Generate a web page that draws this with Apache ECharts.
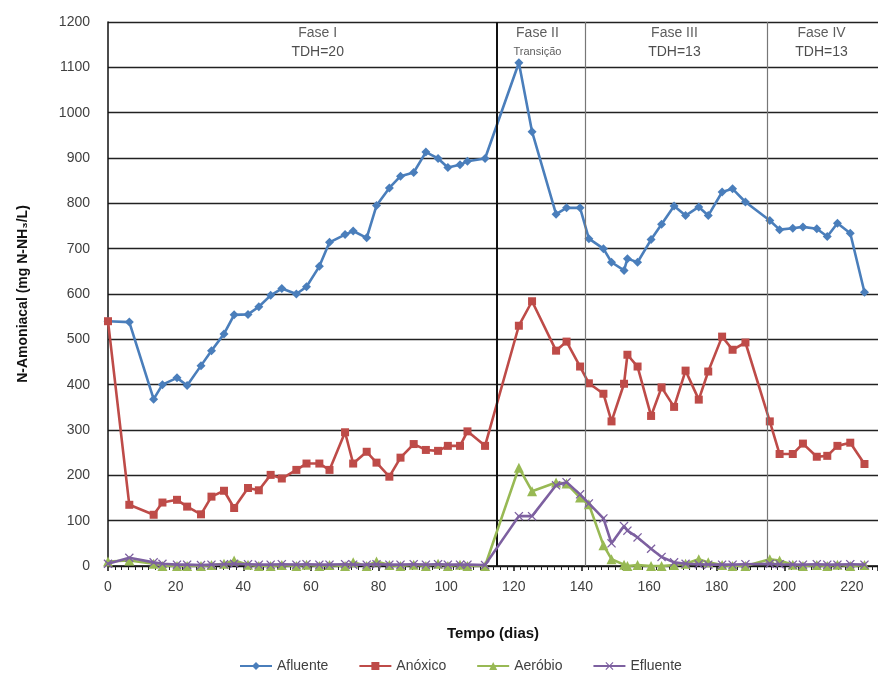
<!DOCTYPE html>
<html>
<head>
<meta charset="utf-8">
<script src="https://cdn.jsdelivr.net/npm/echarts@6/dist/echarts.min.js"></script>
<style>
html,body{margin:0;padding:0;background:#fff;}
#chart{width:878px;height:682px;}
</style>
</head>
<body>
<div id="chart"></div>
<script>
// ---- data ----
const days = [0, 6.3, 13.5, 16.1, 20.4, 23.4, 27.5, 30.6, 34.3, 37.3,
  41.4, 44.6, 48.1, 51.4, 55.7, 58.7, 62.5, 65.5, 70.1, 72.5,
  76.5, 79.4, 83.2, 86.5, 90.4, 94.0, 97.6, 100.5, 104.1, 106.3,
  111.5, 121.5, 125.4, 132.5, 135.6, 139.6, 142.2, 146.5, 148.9, 152.6,
  153.6, 156.6, 160.6, 163.7, 167.4, 170.8, 174.7, 177.5, 181.6, 184.7,
  188.5, 195.7, 198.6, 202.5, 205.5, 209.6, 212.7, 215.7, 219.5, 223.7];
const afluente = [540, 538, 368, 400, 415, 398, 442, 475, 512, 554,
  555, 572, 597, 612, 600, 616, 661, 714, 731, 739,
  724, 795, 834, 860, 868, 913, 899, 879, 885, 893,
  899, 1110, 958, 776, 790, 790, 722, 700, 670, 652,
  678, 670, 720, 754, 794, 773, 792, 773, 825, 832,
  803, 762, 742, 745, 748, 744, 727, 756, 734, 604];
const anoxico = [540, 135, 113, 140, 146, 131, 114, 153, 166, 128,
  172, 167, 201, 193, 212, 226, 226, 212, 295, 226,
  252, 228, 197, 239, 269, 256, 254, 265, 265, 297,
  265, 530, 584, 475, 495, 440, 403, 380, 319, 402,
  466, 440, 331, 394, 351, 431, 367, 429, 506, 477,
  493, 319, 247, 247, 270, 241, 243, 265, 272, 225];
const aerobio = [10, 12, 5, 0, 0, 0, 0, 2, 5, 12,
  3, 0, 0, 2, 0, 3, 0, 2, 0, 8,
  0, 10, 2, 0, 3, 0, 5, 0, 3, 0,
  0, 217, 165, 184, 182, 151, 136, 46, 15, 3,
  0, 2, 0, 0, 2, 5, 15, 8, 2, 0,
  0, 15, 12, 3, 0, 2, 0, 3, 0, 2];
const efluente = [5, 18, 8, 5, 3, 3, 2, 3, 4, 5,
  4, 3, 3, 4, 3, 4, 3, 3, 4, 3,
  3, 4, 3, 3, 4, 3, 4, 3, 3, 3,
  2, 110, 110, 178, 185, 158, 138, 105, 50, 88,
  78, 63, 38, 20, 8, 5, 4, 3, 3, 3,
  4, 5, 4, 3, 3, 4, 3, 3, 4, 3];
const seriesNames = ['Afluente', 'Anóxico', 'Aeróbio', 'Efluente'];
const xTicks = [0, 20, 40, 60, 80, 100, 120, 140, 160, 180, 200, 220];
const yTicks = [0, 100, 200, 300, 400, 500, 600, 700, 800, 900, 1000, 1100, 1200];
const phaseLines = [115, 141, 195];
const phaseTitles = ['Fase I', 'Fase II', 'Fase III', 'Fase IV'];
const phaseSubs = ['TDH=20', 'Transição', 'TDH=13', 'TDH=13'];
const phaseCenters = [62, 127, 167.5, 211];
const phaseLabelLevel = 1155;

// ---- chart ----
const FONT = '"Liberation Sans", Arial, sans-serif';
const colors = ['#4A7EBB', '#BE4B48', '#98B954', '#7D60A0'];
const xSymbol = 'path://M0,1 L1,0 L5,4 L9,0 L10,1 L6,5 L10,9 L9,10 L5,6 L1,10 L0,9 L4,5 Z';
const symbols = ['diamond', 'rect', 'triangle', xSymbol];
const sizes = [9, 8, 10, 9];
const values = [afluente, anoxico, aerobio, efluente];

const zip = arr => days.map((d, i) => [d, arr[i]]);

const lineSeries = seriesNames.map((name, k) => ({
  name: name,
  type: 'line',
  data: zip(values[k]),
  symbol: symbols[k],
  symbolSize: sizes[k],
  showAllSymbol: true,
  lineStyle: { color: colors[k], width: 2.6 },
  itemStyle: { color: colors[k] },
  z: 3 + k,
  animation: false
}));

const phaseLineStyles = [
  { color: '#111', width: 2, type: 'solid' },
  { color: '#777', width: 1.2, type: 'solid' },
  { color: '#777', width: 1.2, type: 'solid' }
];

const phaseSeries = {
  name: 'phases',
  type: 'scatter',
  symbolSize: 0,
  silent: true,
  animation: false,
  data: phaseCenters.map((c, i) => ({
    value: [c, phaseLabelLevel],
    label: {
      formatter: '{t|' + phaseTitles[i] + '}\n{' + (i === 1 ? 'u' : 's') + '|' + phaseSubs[i] + '}'
    }
  })),
  label: {
    show: true,
    position: 'inside',
    align: 'center',
    verticalAlign: 'middle',
    rich: {
      t: { fontFamily: FONT, fontSize: 14, color: '#333', lineHeight: 19, align: 'center' },
      s: { fontFamily: FONT, fontSize: 14, color: '#222', lineHeight: 19, align: 'center' },
      u: { fontFamily: FONT, fontSize: 11, color: '#333', lineHeight: 19, align: 'center' }
    }
  },
  markLine: {
    silent: true,
    symbol: 'none',
    animation: false,
    label: { show: false },
    data: phaseLines.map((d, i) => ({ xAxis: d, lineStyle: phaseLineStyles[i] }))
  },
  z: 2
};

const chart = echarts.init(document.getElementById('chart'), null, { renderer: 'canvas' });
chart.setOption({
  backgroundColor: '#fff',
  animation: false,
  textStyle: { fontFamily: FONT },
  grid: { left: 108, right: 0, top: 22, bottom: 116, containLabel: false },
  legend: {
    data: seriesNames,
    bottom: 4,
    left: 234,
    itemWidth: 32,
    itemHeight: 10,
    itemGap: 30,
    textStyle: { fontFamily: FONT, fontSize: 14, color: '#404040' }
  },
  xAxis: {
    type: 'value',
    min: xTicks[0],
    max: 227.7,
    interval: xTicks[1] - xTicks[0],
    name: 'Tempo (dias)',
    nameLocation: 'middle',
    nameGap: 60,
    nameTextStyle: { fontFamily: FONT, fontSize: 15, fontWeight: 'bold', color: '#111' },
    axisLine: { show: true, onZero: false, lineStyle: { color: '#111', width: 1.5 } },
    axisTick: { show: true, length: 5, lineStyle: { color: '#111', width: 1.5 } },
    minorTick: { show: true, splitNumber: 10, length: 4, lineStyle: { color: '#222', width: 1 } },
    axisLabel: {
      showMaxLabel: false,
      margin: 14,
      fontFamily: FONT, fontSize: 14, color: '#404040',
      formatter: v => xTicks.indexOf(v) >= 0 ? String(v) : ''
    },
    splitLine: { show: false }
  },
  yAxis: {
    type: 'value',
    min: yTicks[0],
    max: yTicks[yTicks.length - 1],
    interval: yTicks[1] - yTicks[0],
    name: 'N-Amoniacal (mg N-NH₃/L)',
    nameLocation: 'middle',
    nameGap: 78,
    nameTextStyle: { fontFamily: FONT, fontSize: 14, fontWeight: 'bold', color: '#111' },
    axisLine: { show: true, lineStyle: { color: '#111', width: 1.5 } },
    axisTick: { show: false },
    axisLabel: {
      margin: 18, fontFamily: FONT, fontSize: 14, color: '#404040',
      formatter: v => String(v)
    },
    splitLine: { show: true, lineStyle: { color: '#222', width: 1.3 } }
  },
  series: [phaseSeries].concat(lineSeries)
});
</script>
</body>
</html>
